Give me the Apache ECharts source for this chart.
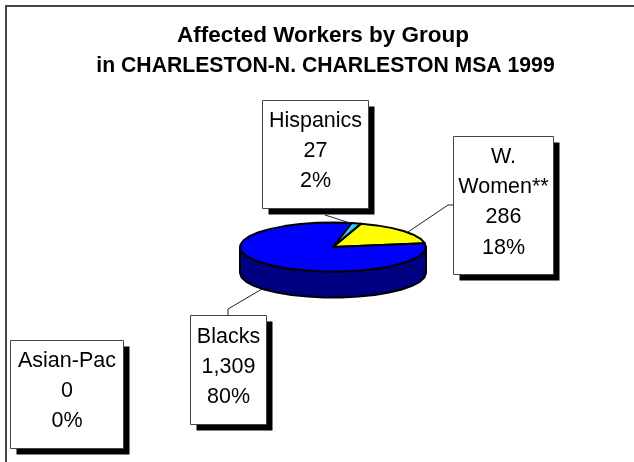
<!DOCTYPE html>
<html><head><meta charset="utf-8">
<style>html,body{margin:0;padding:0;background:#fff}#c{width:634px;height:462px}</style>
<script src="https://cdn.jsdelivr.net/npm/echarts@6/dist/echarts.min.js"></script>
</head><body><div id="c"></div>
<script>
const groups = ['W. Women**', 'Hispanics', 'Asian-Pac', 'Blacks'];
const workers = [286, 27, 0, 1309];
const shares = ['18%', '2%', '0%', '80%'];
const labelLines = [['W.', 'Women**', '286', '18%'], ['Hispanics', '27', '2%'], ['Asian-Pac', '0', '0%'], ['Blacks', '1,309', '80%']];
const titleLine1 = 'Affected Workers by Group';
const titleLine2 = 'in CHARLESTON-N. CHARLESTON MSA 1999';

const sliceColors = ['#ffff00', '#33ccff', '#ff00ff', '#0000ff'];
const sideColors = ['#808000', '#1a6680', '#800080', '#000080'];
const boxes = [
  {x: 453.5, y: 136.5, w: 100, h: 138, firstLine: 157, leader: [[453, 205], [448, 205], [408, 232]]},
  {x: 262.5, y: 100.5, w: 106, h: 108, firstLine: 121, leader: [[325, 215], [350, 223]]},
  {x: 10.5, y: 340.5, w: 113, h: 108, firstLine: 361, leader: null},
  {x: 190.5, y: 315.5, w: 76, h: 109, firstLine: 337, leader: [[228, 315], [228, 309], [262, 289]]}
];
const pie = {cx: 333, cy: 247, rx: 93, ry: 24.5, depth: 26, startDeg: 9, stepDeg: 11};
const total = workers.reduce((a, b) => a + b, 0);
let cursor = pie.startDeg;
const spans = workers.map(v => { const s = cursor; cursor += v / total * 360; return [s, cursor]; });
const pt = (deg, dy) => {
  const r = deg * Math.PI / 180;
  return [pie.cx + pie.rx * Math.cos(r), pie.cy - pie.ry * Math.sin(r) + (dy || 0)];
};
const arc = (a, b, dy) => {
  const out = [], n = Math.max(1, Math.ceil((b - a) / pie.stepDeg));
  for (let i = 0; i <= n; i++) out.push(pt(a + (b - a) * i / n, dy));
  return out;
};
const edge = {stroke: '#000', lineWidth: 2, lineJoin: 'round'};

function renderSlice(params, api) {
  const i = api.value(0), kids = [];
  const [a, b] = spans[i];
  if (b > a) {
    [[180, 360], [540, 720]].forEach(([lo, hi]) => {
      const s = Math.max(a, lo), e = Math.min(b, hi);
      if (e > s) {
        kids.push({type: 'polygon', z2: 1, shape: {points: arc(s, e, 0).concat(arc(s, e, pie.depth).reverse())},
          style: Object.assign({fill: sideColors[i]}, edge)});
      }
    });
    kids.push({type: 'polygon', z2: 2, shape: {points: [[pie.cx, pie.cy]].concat(arc(a, b, 0))},
      style: Object.assign({fill: sliceColors[i]}, edge)});
  }
  const box = boxes[i];
  if (box.leader) {
    kids.push({type: 'polyline', z2: 3, shape: {points: box.leader}, style: {stroke: '#222', lineWidth: 1, fill: 'none'}});
  }
  kids.push({type: 'rect', z2: 4, shape: {x: box.x + 6, y: box.y + 6, width: box.w, height: box.h}, style: {fill: '#000'}});
  kids.push({type: 'rect', z2: 5, shape: {x: box.x, y: box.y, width: box.w, height: box.h}, style: {fill: '#fff', stroke: '#444', lineWidth: 1}});
  labelLines[i].forEach((t, k) => {
    kids.push({type: 'text', z2: 6, style: {text: t, x: box.x + box.w / 2, y: box.firstLine + k * 30.2,
      align: 'center', verticalAlign: 'middle', fill: '#000', font: '21.5px "Liberation Sans", Arial, sans-serif'}});
  });
  return {type: 'group', children: kids};
}

const titleFont = '"Liberation Sans", Arial, sans-serif';
const chart = echarts.init(document.getElementById('c'), null, {renderer: 'canvas'});
chart.setOption({
  animation: false,
  backgroundColor: '#fff',
  title: [
    {text: titleLine1, left: 323, top: 24, textAlign: 'center', padding: 0,
      textStyle: {fontFamily: titleFont, fontWeight: 'bold', fontSize: 22.5, color: '#000'}},
    {text: titleLine2, left: 325.5, top: 55.5, textAlign: 'center', padding: 0,
      textStyle: {fontFamily: titleFont, fontWeight: 'bold', fontSize: 21.2, color: '#000'}}
  ],
  graphic: [
    {type: 'polyline', shape: {points: [[6, 462], [6, 6], [634, 6]]}, style: {stroke: '#444', lineWidth: 2, fill: 'none'}}
  ],
  series: [{
    type: 'custom', coordinateSystem: 'none', clip: false,
    renderItem: renderSlice,
    data: groups.map((g, i) => ({name: g, value: [i, workers[i], shares[i]]}))
  }]
});
</script></body></html>
